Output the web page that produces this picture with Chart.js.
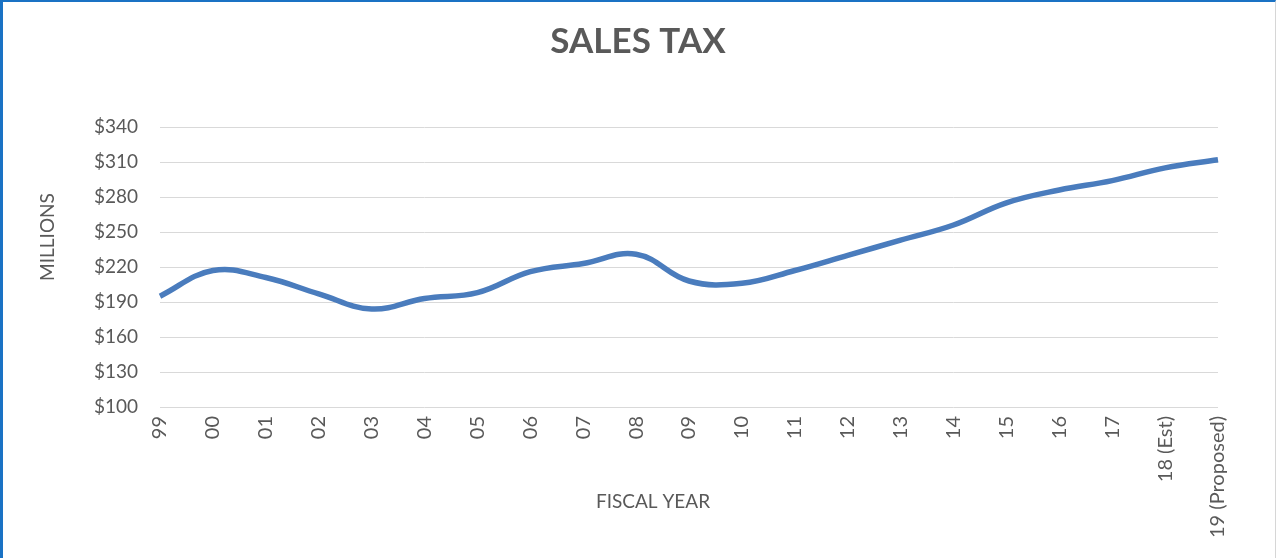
<!DOCTYPE html>
<html>
<head>
<meta charset="utf-8">
<script src="https://cdn.jsdelivr.net/npm/chart.js@4"></script>
<style>
  body { margin: 0; background: #fff; }
  #wrap { position: absolute; left: 0; top: 0; width: 1276px; height: 558px; box-sizing: border-box;
          border-top: 2px solid #1a72c4; border-left: 3px solid #1a72c4; border-right: 1px solid #d6d6d6; }
  #myChart { position: absolute; left: -3px; top: -2px; }
</style>
</head>
<body>
<div id="wrap"><canvas id="myChart" width="1276" height="558"></canvas></div>
<script>
// fiscal years
var years = ['99','00','01','02','03','04','05','06','07','08','09','10','11','12','13','14','15','16','17','18 (Est)','19 (Proposed)']
// sales tax, millions
var salesTax = [195, 217, 211, 197, 184, 193, 198, 216, 223, 231, 208, 206, 217, 230, 243, 256, 275, 286, 294, 305, 312]
var yMin = 100, yMax = 340, yStep = 30
var xTitle = 'FISCAL YEAR'
var yTitle = 'MILLIONS'

const gray = '#595959'

// excel centres the axis titles on the whole chart, not on the plot area
const axisTitles = {
  id: 'axisTitles',
  afterDraw(chart) {
    const c = chart.ctx
    c.save()
    c.fillStyle = gray
    c.font = '19px Lato'
    c.textAlign = 'center'
    c.textBaseline = 'middle'
    c.fillText(xTitle, 653, 502)
    c.translate(48, 237)
    c.rotate(-Math.PI / 2)
    c.fillText(yTitle, 0, 0)
    c.restore()
  }
}

const ctx = document.getElementById('myChart')
new Chart(ctx, {
  type: 'line',
  data: {
    labels: years,
    datasets: [{
      label: 'Sales Tax',
      data: salesTax,
      borderColor: '#4a7cbd',
      borderWidth: 5.5,
      pointRadius: 0,
      tension: 0.4,
      fill: false
    }]
  },
  options: {
    responsive: false,
    animation: false,
    layout: { padding: { left: 58, right: 58, top: 0, bottom: 4 } },
    plugins: {
      legend: { display: false },
      tooltip: { enabled: false },
      title: {
        display: true,
        text: 'SALES TAX',
        color: gray,
        font: { family: 'Lato', size: 35, weight: 'bold' },
        padding: { top: 21, bottom: 64 }
      }
    },
    scales: {
      x: {
        offset: false,
        grid: { display: false, drawTicks: false },
        border: { display: false },
        ticks: { color: gray, font: { family: 'Lato', size: 20 }, autoSkip: false, maxRotation: 90, minRotation: 90, padding: 9 },
        afterFit: function(scale) { scale.height = 147 }
      },
      y: {
        min: yMin,
        max: yMax,
        grid: { color: '#d9d9d9', lineWidth: 1, drawTicks: false },
        border: { display: false },
        ticks: { stepSize: yStep, color: gray, font: { family: 'Lato', size: 19 }, padding: 22,
                 callback: function(v) { return '$' + v } },
        afterFit: function(scale) { scale.width = 102 }
      }
    }
  },
  plugins: [axisTitles]
})
</script>
</body>
</html>
